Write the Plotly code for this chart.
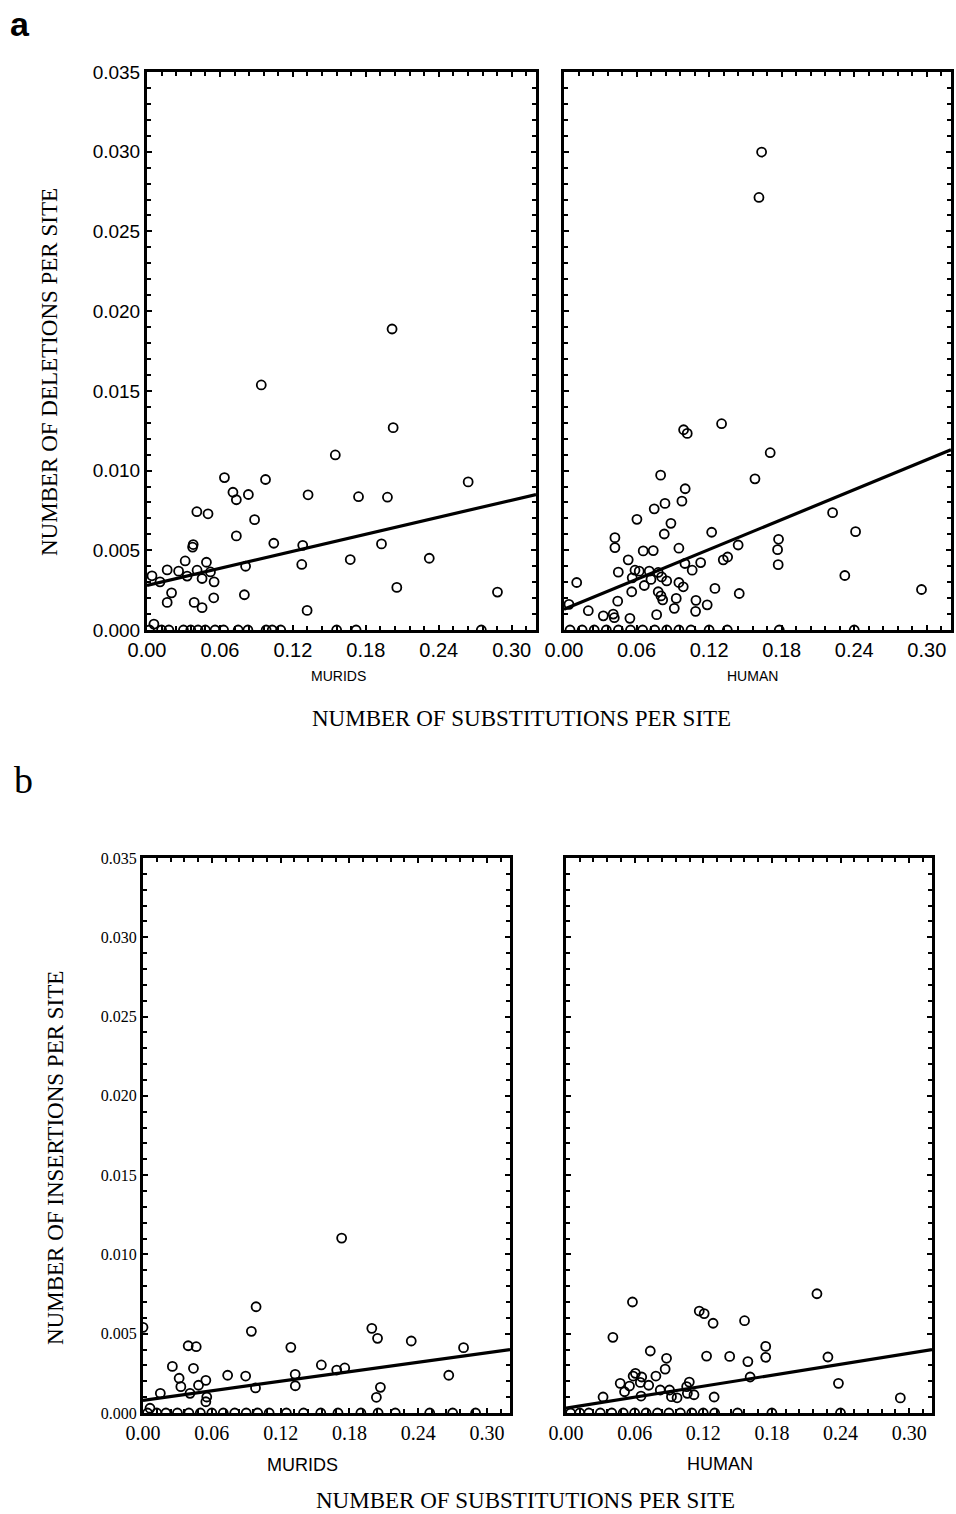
import plotly.graph_objects as go

# ---------------- data ----------------
# Panel a, murids: deletions vs substitutions
del_mur_x = [0.094, 0.2025, 0.1549, 0.0637, 0.0975, 0.2642, 0.0707, 0.0735, 0.0834, 0.1325,
             0.174, 0.1978, 0.041, 0.0502, 0.0885, 0.0735, 0.038, 0.0375, 0.1043, 0.1281,
             0.1929, 0.0314, 0.0489, 0.0166, 0.026, 0.0412, 0.0522, 0.033, 0.0041, 0.0107,
             0.0453, 0.0552, 0.0811, 0.1672, 0.2322, 0.1273, 0.0202, 0.0166, 0.0388, 0.0453,
             0.0549, 0.0801, 0.2055, 0.2883, 0.1317, 0.0057, 0.2016,
             0.002, 0.012, 0.018, 0.03, 0.036, 0.042, 0.048, 0.056, 0.063, 0.075, 0.083, 0.098,
             0.103, 0.11, 0.156, 0.172, 0.275]
del_mur_y = [0.01537, 0.01269, 0.01098, 0.00956, 0.00944, 0.00929, 0.00864, 0.00817, 0.0085, 0.00848,
             0.00836, 0.00833, 0.00742, 0.00729, 0.00692, 0.0059, 0.00536, 0.0052, 0.00544, 0.00531,
             0.0054, 0.00433, 0.00425, 0.00377, 0.00369, 0.00375, 0.00364, 0.00338, 0.0034, 0.00302,
             0.00323, 0.00302, 0.004, 0.00442, 0.0045, 0.00411, 0.00233, 0.00173, 0.00173, 0.0014,
             0.00202, 0.00221, 0.00267, 0.00238, 0.00123, 0.00037, 0.01888,
             0, 0, 0, 0, 0, 0, 0, 0, 0, 0, 0, 0, 0, 0, 0, 0, 0]
del_mur_fit_x = [0.0, 0.32]
del_mur_fit_y = [0.0028, 0.0085]

# Panel a, human: deletions vs substitutions
del_hum_x = [0.1634, 0.1612, 0.1303, 0.0989, 0.1019, 0.1705, 0.1579, 0.0799, 0.1002, 0.0975,
             0.0835, 0.0746, 0.0603, 0.0884, 0.0829, 0.1221, 0.2221, 0.2411, 0.0421, 0.0421,
             0.1774, 0.1766, 0.1771, 0.144, 0.0655, 0.0738, 0.095, 0.0531, 0.1317, 0.1353,
             0.113, 0.1, 0.106, 0.0449, 0.0587, 0.0622, 0.0705, 0.0779, 0.0564, 0.0719,
             0.0807, 0.0849, 0.095, 0.0986, 0.0664, 0.0105, 0.056, 0.0779, 0.0802, 0.0816,
             0.0928, 0.1248, 0.1449, 0.2322, 0.2956, 0.0444, 0.1091, 0.1184, 0.0912, 0.1088,
             0.0201, 0.0325, 0.0407, 0.0416, 0.0545, 0.0766, 0.0041,
             0.005, 0.015, 0.025, 0.035, 0.045, 0.055, 0.065, 0.075, 0.085, 0.095, 0.105,
             0.12, 0.135, 0.178, 0.24]
del_hum_y = [0.02998, 0.02713, 0.01294, 0.01256, 0.01233, 0.01112, 0.00948, 0.00971, 0.00886, 0.00808,
             0.00794, 0.0076, 0.00694, 0.00669, 0.00602, 0.00613, 0.00736, 0.00617, 0.00579, 0.00517,
             0.00569, 0.00504, 0.0041, 0.00533, 0.00496, 0.00498, 0.00513, 0.0044, 0.0044, 0.00458,
             0.00423, 0.00417, 0.00375, 0.00363, 0.00375, 0.00369, 0.00369, 0.00361, 0.00327, 0.00317,
             0.00333, 0.00308, 0.00298, 0.00271, 0.00279, 0.00298, 0.0024, 0.0024, 0.00214, 0.00189,
             0.00198, 0.00261, 0.00229, 0.00342, 0.00254, 0.00181, 0.00186, 0.00158, 0.00136, 0.00117,
             0.00121, 0.00089, 0.001, 0.00077, 0.00073, 0.00096, 0.00161,
             0, 0, 0, 0, 0, 0, 0, 0, 0, 0, 0, 0, 0, 0, 0]
del_hum_fit_x = [0.0, 0.32]
del_hum_fit_y = [0.0013, 0.0113]

# Panel b, murids: insertions vs substitutions
ins_mur_x = [0.0986, 0.0945, 0.0394, 0.0464, 0.1289, 0.1995, 0.2045, 0.2339, 0.2795, 0.0256,
             0.044, 0.1555, 0.1689, 0.1759, 0.0315, 0.0738, 0.0895, 0.1327, 0.2666, 0.0548,
             0.033, 0.0484, 0.0981, 0.1328, 0.207, 0.2035, 0.0151, 0.041, 0.0556, 0.0548,
             0.0061, 0.1732, 0.0,
             0.004, 0.012, 0.02, 0.03, 0.04, 0.05, 0.06, 0.07, 0.08, 0.09, 0.1, 0.11, 0.125,
             0.14, 0.155, 0.17, 0.19, 0.205, 0.22, 0.25, 0.27, 0.29]
ins_mur_y = [0.0067, 0.00515, 0.00424, 0.00418, 0.00414, 0.00534, 0.00471, 0.00454, 0.00412, 0.00294,
             0.00282, 0.00303, 0.00271, 0.00284, 0.00219, 0.00238, 0.00233, 0.00244, 0.00238, 0.00206,
             0.00166, 0.00175, 0.00158, 0.00172, 0.00162, 0.00099, 0.00124, 0.00124, 0.00101, 0.00071,
             0.0003, 0.01103, 0.0054,
             0, 0, 0, 0, 0, 0, 0, 0, 0, 0, 0, 0, 0, 0, 0, 0, 0, 0, 0, 0, 0, 0]
ins_mur_fit_x = [0.0, 0.32]
ins_mur_fit_y = [0.0008, 0.0040]

# Panel b, human: insertions vs substitutions
ins_hum_x = [0.2194, 0.0581, 0.1165, 0.1208, 0.1286, 0.1561, 0.041, 0.0737, 0.1746, 0.1746,
             0.229, 0.1229, 0.1431, 0.159, 0.0879, 0.0867, 0.0607, 0.0587, 0.0662, 0.0786,
             0.161, 0.0474, 0.0555, 0.065, 0.0723, 0.1078, 0.1055, 0.2382, 0.0512, 0.0656,
             0.0824, 0.0905, 0.0922, 0.0971, 0.1061, 0.1119, 0.1295, 0.0324, 0.2923,
             0.004, 0.012, 0.02, 0.03, 0.04, 0.05, 0.06, 0.07, 0.08, 0.09, 0.1, 0.11, 0.12,
             0.13, 0.15, 0.18, 0.24]
ins_hum_y = [0.00752, 0.007, 0.00643, 0.00627, 0.00566, 0.00582, 0.00477, 0.00391, 0.0042, 0.00351,
             0.00353, 0.00359, 0.00357, 0.00324, 0.00345, 0.00277, 0.0025, 0.00233, 0.00227, 0.00233,
             0.00227, 0.00187, 0.0017, 0.00193, 0.00175, 0.00195, 0.00166, 0.00187, 0.00134, 0.00107,
             0.00145, 0.00145, 0.00103, 0.00096, 0.00124, 0.00115, 0.00101, 0.00101, 0.00095,
             0, 0, 0, 0, 0, 0, 0, 0, 0, 0, 0, 0, 0, 0, 0, 0, 0]
ins_hum_fit_x = [0.0, 0.32]
ins_hum_fit_y = [0.0003, 0.0040]

x_ticks = [0.0, 0.06, 0.12, 0.18, 0.24, 0.30]
y_ticks = [0.0, 0.005, 0.010, 0.015, 0.020, 0.025, 0.030, 0.035]

# ---------------- figure ----------------
W, H = 956, 1514
fig = go.Figure()

panels = [
    (del_mur_x, del_mur_y, del_mur_fit_x, del_mur_fit_y, "x", "y"),
    (del_hum_x, del_hum_y, del_hum_fit_x, del_hum_fit_y, "x2", "y2"),
    (ins_mur_x, ins_mur_y, ins_mur_fit_x, ins_mur_fit_y, "x3", "y3"),
    (ins_hum_x, ins_hum_y, ins_hum_fit_x, ins_hum_fit_y, "x4", "y4"),
]
for px, py, fx, fy, xa, ya in panels:
    fig.add_trace(go.Scatter(x=px, y=py, mode="markers", xaxis=xa, yaxis=ya,
                             marker=dict(symbol="circle-open", size=9, color="black",
                                         line=dict(width=1.8, color="black")),
                             showlegend=False, hoverinfo="x+y"))
    fig.add_trace(go.Scatter(x=fx, y=fy, mode="lines", xaxis=xa, yaxis=ya,
                             line=dict(color="black", width=3.2), showlegend=False))

def px2fx(p):
    return p / W

def py2fy(p):
    return 1 - p / H

sans = "Liberation Sans, Arial, sans-serif"
serif = "Liberation Serif, Times New Roman, serif"

def xaxis(dom, anchor, font, size):
    return dict(domain=[px2fx(dom[0]), px2fx(dom[1])], anchor=anchor, range=[0, 0.32],
                tickvals=x_ticks, tickformat=".2f", ticks="inside", ticklen=5, tickwidth=2,
                tickcolor="black", showline=True, linewidth=3, linecolor="black",
                mirror="allticks", showgrid=False, zeroline=False, automargin=False,
                tickfont=dict(family=font, size=size, color="black"),
                minor=dict(dtick=0.012, tick0=0, ticks="inside", ticklen=4, tickwidth=2,
                           tickcolor="black", showgrid=False))

def yaxis(dom, anchor, font, size, labels):
    return dict(domain=[py2fy(dom[1]), py2fy(dom[0])], anchor=anchor, range=[0, 0.035],
                tickvals=y_ticks, tickformat=".3f", ticks="inside", ticklen=5, tickwidth=2,
                tickcolor="black", showline=True, linewidth=3, linecolor="black",
                mirror="allticks", showgrid=False, zeroline=False, showticklabels=labels,
                automargin=False,
                tickfont=dict(family=font, size=size, color="black"),
                minor=dict(dtick=0.001, tick0=0, ticks="inside", ticklen=4, tickwidth=2,
                           tickcolor="black", showgrid=False))

fig.update_layout(
    template="none",
    width=W, height=H, margin=dict(l=0, r=0, t=0, b=0),
    paper_bgcolor="white", plot_bgcolor="white",
    xaxis=xaxis((147, 536), "y", sans, 20),
    yaxis=yaxis((72, 630), "x", sans, 19, True),
    xaxis2=xaxis((564, 951), "y2", sans, 20),
    yaxis2=yaxis((72, 630), "x2", sans, 19, False),
    xaxis3=xaxis((143, 510), "y3", serif, 20),
    yaxis3=yaxis((858, 1413), "x3", serif, 16, True),
    xaxis4=xaxis((566, 932), "y4", serif, 20),
    yaxis4=yaxis((858, 1413), "x4", serif, 16, False),
)

def ann(text, x, y, font, size, angle=0, bold=False):
    t = "<b>%s</b>" % text if bold else text
    fig.add_annotation(text=t, x=px2fx(x), y=py2fy(y), xref="paper", yref="paper",
                       showarrow=False, textangle=angle, xanchor="center", yanchor="middle",
                       font=dict(family=font, size=size, color="black"))

ann("a", 20, 24, sans, 34, bold=True)
ann("b", 23, 780, serif, 38)
ann("NUMBER OF DELETIONS PER SITE", 50, 372, serif, 23, angle=-90)
ann("NUMBER OF INSERTIONS PER SITE", 55, 1158, serif, 23, angle=-90)
ann("MURIDS", 338, 676, sans, 14)
ann("HUMAN", 752, 676, sans, 14)
ann("NUMBER OF SUBSTITUTIONS PER SITE", 521, 718, serif, 23)
ann("MURIDS", 302, 1465, sans, 18)
ann("HUMAN", 720, 1464, sans, 18)
ann("NUMBER OF SUBSTITUTIONS PER SITE", 525, 1500, serif, 23)

fig.write_html("out.html", config={"displayModeBar": False},
               post_script="document.body.style.margin='0';document.body.style.overflow='hidden';")
